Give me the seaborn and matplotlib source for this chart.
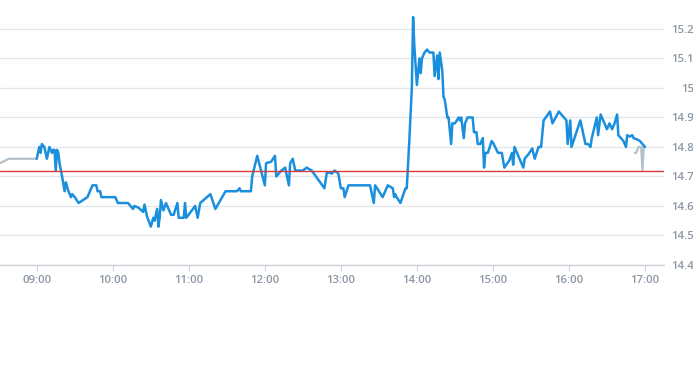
import matplotlib
matplotlib.use("Agg")
import matplotlib.pyplot as plt
import seaborn as sns
import pandas as pd

main_times = ["09:00","09:02","09:03","09:04","09:06","09:08","09:09","09:10","09:12","09:13","09:14","09:15","09:16","09:17","09:18","09:20","09:22","09:23","09:25","09:27","09:28","09:30","09:33","09:40","09:44","09:47","09:48","09:50","09:51",
"10:02","10:04","10:12","10:16","10:17","10:20","10:24","10:25","10:27","10:30","10:32","10:33","10:35","10:36","10:37","10:38","10:40","10:42","10:46","10:48","10:51","10:52","10:56","10:57","10:58",
"11:05","11:07","11:09","11:17","11:21","11:29","11:38","11:40","11:41","11:49","11:50","11:54","11:57",
"12:00","12:01","12:05","12:08","12:09","12:13","12:16","12:19","12:20","12:22","12:24","12:30","12:33","12:37","12:47","12:49","12:53","12:55","12:58",
"13:00","13:02","13:03","13:06","13:23","13:26","13:27","13:33","13:37","13:41","13:42","13:43","13:44","13:47","13:51","13:52","13:54","13:56","13:57","13:58",
"14:00","14:02","14:03","14:04","14:06","14:08","14:10","14:13","14:14","14:16","14:17","14:18","14:20","14:21","14:22","14:24","14:25","14:27","14:28","14:30","14:33","14:34","14:35","14:37","14:38","14:40","14:44","14:45","14:47","14:48","14:50","14:52","14:53","14:54","14:56","14:59",
"15:00","15:04","15:07","15:09","15:13","15:15","15:16","15:17","15:20","15:24","15:25","15:28","15:31","15:33","15:36","15:38","15:40","15:45","15:47","15:52","15:58","15:59",
"16:01","16:02","16:09","16:13","16:15","16:17","16:18","16:22","16:23","16:25","16:30","16:32","16:34","16:36","16:38","16:39","16:43","16:45","16:46","16:48","16:50","16:51","16:54","16:56","17:00"]
main_values = [14.76,14.80,14.78,14.81,14.80,14.76,14.78,14.80,14.78,14.79,14.79,14.72,14.79,14.78,14.745,14.70,14.65,14.68,14.65,14.63,14.64,14.63,14.61,14.63,14.67,14.67,14.65,14.65,14.63,
14.63,14.61,14.61,14.59,14.60,14.595,14.58,14.605,14.565,14.53,14.56,14.55,14.59,14.53,14.56,14.62,14.585,14.61,14.57,14.57,14.61,14.56,14.56,14.61,14.56,
14.60,14.56,14.61,14.64,14.59,14.65,14.65,14.66,14.65,14.65,14.70,14.77,14.72,
14.67,14.745,14.75,14.77,14.70,14.72,14.73,14.67,14.745,14.76,14.72,14.72,14.73,14.72,14.66,14.715,14.71,14.72,14.71,
14.66,14.66,14.63,14.67,14.67,14.61,14.67,14.63,14.67,14.66,14.63,14.64,14.63,14.61,14.66,14.66,14.82,15.00,15.24,15.14,
15.01,15.10,15.05,15.10,15.12,15.13,15.12,15.12,15.04,15.11,15.03,15.12,15.06,14.97,14.96,14.90,14.90,14.81,14.88,14.88,14.90,14.89,14.90,14.83,14.88,14.90,14.90,14.85,14.85,14.81,14.81,14.83,14.73,14.78,14.78,14.82,
14.815,14.78,14.78,14.73,14.755,14.78,14.74,14.80,14.77,14.73,14.76,14.775,14.795,14.76,14.80,14.80,14.89,14.92,14.88,14.92,14.89,14.81,
14.89,14.80,14.89,14.81,14.81,14.80,14.83,14.90,14.84,14.91,14.86,14.88,14.86,14.88,14.91,14.84,14.82,14.80,14.84,14.835,14.84,14.83,14.825,14.82,14.80]

pre_times = ["08:31","08:38","09:00"]
pre_values = [14.745,14.76,14.76]
post_times = ["16:52","16:53","16:55","16:57","16:58","16:59","17:00"]
post_values = [14.78,14.78,14.80,14.80,14.72,14.80,14.80]

ref_value = 14.72
y_ticks = [14.4,14.5,14.6,14.7,14.8,14.9,15.0,15.1,15.2]
y_labels = ["14.4","14.5","14.6","14.7","14.8","14.9","15","15.1","15.2"]
x_ticks = ["09:00","10:00","11:00","12:00","13:00","14:00","15:00","16:00","17:00"]

def to_dt(ts):
    return pd.to_datetime(["2024-01-02 " + t for t in ts])

main = pd.DataFrame({"t": to_dt(main_times), "v": main_values})
pre = pd.DataFrame({"t": to_dt(pre_times), "v": pre_values})
post = pd.DataFrame({"t": to_dt(post_times), "v": post_values})

sns.set_theme(style="white")
plt.rcParams['font.family'] = ['Open Sans', 'DejaVu Sans']

W, H = 693, 365
fig = plt.figure(figsize=(W/100, H/100), dpi=100)
ax = fig.add_axes([0, (H-265)/H, 664/W, 265/H])

grid_c = "#e3e6ea"
lab_c = "#8b97a4"
for yt in y_ticks:
    ax.axhline(yt, color=grid_c, lw=1.0, zorder=0)

sns.lineplot(data=pre, x="t", y="v", ax=ax, color="#b4c0ca", lw=1.6, zorder=2)
sns.lineplot(data=post, x="t", y="v", ax=ax, color="#b4c0ca", lw=1.6, zorder=2)
sns.lineplot(data=main, x="t", y="v", ax=ax, color="#1a8fde", lw=1.8, zorder=3)
ax.axhline(ref_value, color="#d93a3a", lw=1.0, zorder=4)

ax.set_xlim(pd.Timestamp("2024-01-02 08:31"), pd.Timestamp("2024-01-02 17:15"))
ax.set_ylim(14.4, 15.298)

ax.set_xticks(to_dt(x_ticks))
ax.set_xticklabels(x_ticks)
ax.set_yticks(y_ticks)
ax.set_yticklabels(y_labels)
ax.yaxis.tick_right()
ax.set_xlabel("")
ax.set_ylabel("")

for s in ["top", "left", "right"]:
    ax.spines[s].set_visible(False)
ax.spines["bottom"].set_color("#ccd3da")
ax.spines["bottom"].set_linewidth(1.0)

ax.tick_params(axis="x", length=4, width=0.8, color="#ccd3da", colors=lab_c, labelsize=8.2, pad=3, bottom=True)
ax.tick_params(axis="y", length=0, colors=lab_c, labelsize=8.2, pad=21.5, right=False)
for lab in ax.get_xticklabels():
    lab.set_fontweight("semibold")
    lab.set_color(lab_c)
for lab in ax.get_yticklabels():
    lab.set_horizontalalignment("right")
    lab.set_fontweight("semibold")
    lab.set_color(lab_c)

fig.savefig("out.png", dpi=100)
